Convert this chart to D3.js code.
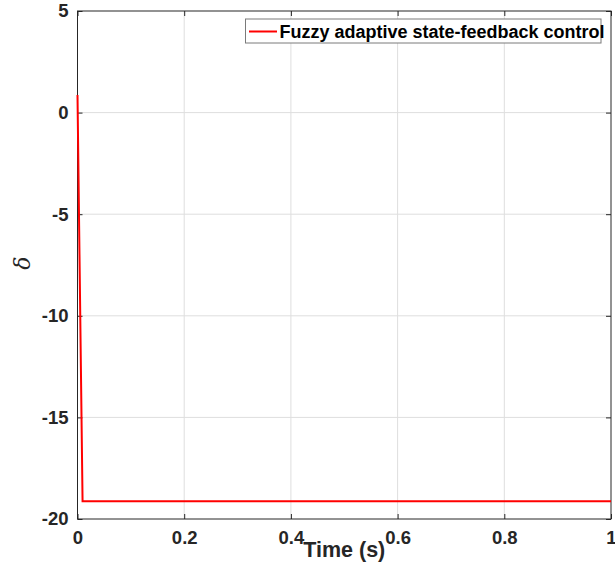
<!DOCTYPE html>
<html>
<head>
<meta charset="utf-8">
<script src="https://cdn.jsdelivr.net/npm/d3@7"></script>
<style>
  body { margin: 0; background: #fff; }
  text { font-family: "Liberation Sans", Arial, sans-serif; }
</style>
</head>
<body>
<svg id="chart" width="615" height="571"></svg>
<script>
// response data
let time = [0, 0.0095, 1];
let delta = [0.87, -19.13, -19.13];
let seriesName = "Fuzzy adaptive state-feedback control";
let xTicks = [0, 0.2, 0.4, 0.6, 0.8, 1];
let yTicks = [5, 0, -5, -10, -15, -20];

let svg = d3.select("#chart"),
    margin = {top: 11, right: 4, bottom: 52, left: 77.5},
    width = svg.attr("width") - margin.left - margin.right,
    height = svg.attr("height") - margin.top - margin.bottom;

let x = d3.scaleLinear().domain([0, 1]).range([0, width]);
let y = d3.scaleLinear().domain([-20, 5]).range([height, 0]);

let g = svg.append("g")
    .attr("transform", "translate(" + margin.left + "," + margin.top + ")");

// grid
g.append("g").selectAll("line")
    .data(xTicks.slice(1, -1)).enter().append("line")
    .attr("x1", d => x(d)).attr("x2", d => x(d))
    .attr("y1", 0).attr("y2", height)
    .attr("stroke", "#dedede").attr("stroke-width", 1);
g.append("g").selectAll("line")
    .data(yTicks.slice(1, -1)).enter().append("line")
    .attr("x1", 0).attr("x2", width)
    .attr("y1", d => y(d)).attr("y2", d => y(d))
    .attr("stroke", "#dedede").attr("stroke-width", 1);

// axes, ticks pointing inward like matlab
function styleAxis(sel) {
    sel.select(".domain").remove();
    sel.selectAll("line").attr("stroke", "#262626");
    sel.selectAll("text")
        .attr("fill", "#262626")
        .style("font-size", "18.5px")
        .style("font-weight", "bold");
}
let fmt = d => String(d);

g.append("g")
    .attr("transform", "translate(0," + height + ")")
    .call(d3.axisBottom(x).tickValues(xTicks).tickSizeInner(-5).tickPadding(12).tickFormat(fmt))
    .call(styleAxis);
g.append("g")
    .call(d3.axisTop(x).tickValues(xTicks).tickSizeInner(-5).tickFormat(""))
    .call(styleAxis);
g.append("g")
    .call(d3.axisLeft(y).tickValues(yTicks).tickSizeInner(-5).tickPadding(9).tickFormat(fmt))
    .call(styleAxis);
g.append("g")
    .attr("transform", "translate(" + width + ",0)")
    .call(d3.axisRight(y).tickValues(yTicks).tickSizeInner(-5).tickFormat(""))
    .call(styleAxis);

g.append("rect")
    .attr("x", 0).attr("y", 0)
    .attr("width", width).attr("height", height)
    .attr("fill", "none").attr("stroke", "#262626").attr("stroke-width", 1);

// the curve
let line = d3.line()
    .x((d, i) => x(time[i]))
    .y(d => y(d));
g.append("path")
    .datum(delta)
    .attr("d", line)
    .attr("fill", "none")
    .attr("stroke", "#ff0000")
    .attr("stroke-width", 2);

// labels
svg.append("text")
    .attr("x", margin.left + width / 2)
    .attr("y", 557)
    .attr("text-anchor", "middle")
    .attr("fill", "#262626")
    .style("font-size", "21.5px")
    .style("font-weight", "bold")
    .text("Time (s)");

svg.append("text")
    .attr("transform", "translate(30,263) rotate(-90)")
    .attr("text-anchor", "middle")
    .attr("fill", "#262626")
    .style("font-family", "'DejaVu Serif', serif")
    .style("font-style", "italic")
    .style("font-size", "22px")
    .text("δ");

// legend
let leg = svg.append("g").attr("transform", "translate(245.5,19)");
leg.append("rect")
    .attr("width", 355.5).attr("height", 24)
    .attr("fill", "#fff").attr("stroke", "#7a7a7a").attr("stroke-width", 1);
leg.append("line")
    .attr("x1", 3.5).attr("x2", 31.5)
    .attr("y1", 12.5).attr("y2", 12.5)
    .attr("stroke", "#ff0000").attr("stroke-width", 2);
leg.append("text")
    .attr("x", 34).attr("y", 19)
    .attr("fill", "#000")
    .style("font-size", "18px")
    .style("font-weight", "bold")
    .text(seriesName);
</script>
</body>
</html>
